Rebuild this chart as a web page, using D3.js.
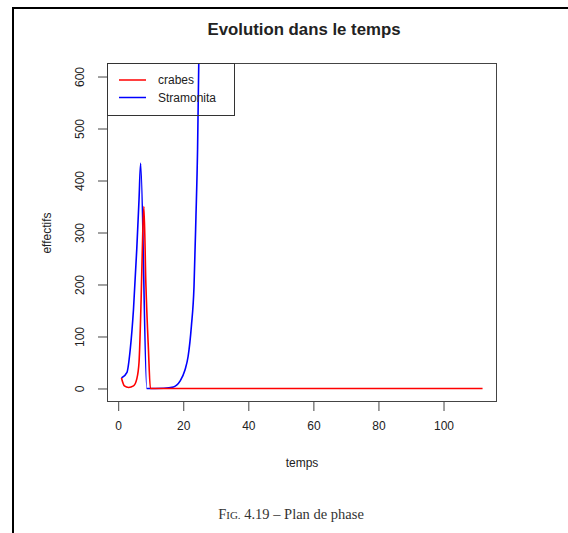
<!DOCTYPE html>
<html>
<head>
<meta charset="utf-8">
<script src="https://cdn.jsdelivr.net/npm/d3@7"></script>
<style>
  body { margin: 0; background: #fff; }
  text { font-family: 'Liberation Sans', Arial, sans-serif; fill: #222; }
  .caption { font-family: 'Liberation Serif', 'DejaVu Serif', serif; fill: #333; }
</style>
</head>
<body>
<div id="chart"></div>
<script>
// values
var timeCrabes = [1, 1.9, 3.2, 4.7, 5.7, 6.4, 7.05, 7.55, 7.9, 8.5, 9.3, 9.9, 112]
var crabes = [20, 5, 2, 5, 18, 50, 171, 299, 350, 203, 75, 0, 0]

var timeStramonita = [1, 2.7, 3.7, 4.7, 5.7, 6.4, 6.9, 8.8, 14, 17, 19, 20.5, 21.5, 22.5, 23.3, 23.9, 24.4, 24.8, 26]
var stramonita = [20, 31, 75, 152, 267, 363, 433, 0, 0.5, 3, 14, 35, 62, 120, 195, 330, 460, 640, 1500]

var xTicks = [0, 20, 40, 60, 80, 100]
var yTicks = [0, 100, 200, 300, 400, 500, 600]

var seriesNames = ['crabes', 'Stramonita']
var seriesColors = ['#ff0000', '#0000ff']

var margin = { top: 63, left: 107, right: 71, bottom: 131 }
var W = 568
var H = 533
var width = W - margin.left - margin.right
var height = H - margin.top - margin.bottom

var root = d3
  .select('#chart')
  .append('svg')
  .attr('width', W)
  .attr('height', H)

// page frame (left and top rules)
root.append('line')
  .attr('x1', 13).attr('x2', 13).attr('y1', 7).attr('y2', H)
  .attr('stroke', '#000').attr('stroke-width', 2)
root.append('line')
  .attr('x1', 12).attr('x2', W).attr('y1', 8).attr('y2', 8)
  .attr('stroke', '#000').attr('stroke-width', 2)

var svg = root.append('g')
  .attr('transform', `translate(${margin.left},${margin.top})`)

let xPositionScale = d3.scaleLinear()
  .domain([-3.44, 116.44])
  .range([0, width])

let yPositionScale = d3.scaleLinear()
  .domain([-26, 626])
  .range([height, 0])

svg.append('clipPath')
  .attr('id', 'plot-clip')
  .append('rect')
  .attr('width', width)
  .attr('height', height)

var line = d3.line()
  .x(d => xPositionScale(d[0]))
  .y(d => yPositionScale(d[1]))
  .curve(d3.curveMonotoneX)

var crabData = timeCrabes.map((t, i) => [t, crabes[i]])
var stramData = timeStramonita.map((t, i) => [t, stramonita[i]])

var plot = svg.append('g').attr('clip-path', 'url(#plot-clip)')

plot.append('path')
  .datum(stramData)
  .attr('d', line)
  .attr('fill', 'none')
  .attr('stroke', seriesColors[1])
  .attr('stroke-width', 1.6)

plot.append('path')
  .datum(crabData)
  .attr('d', line)
  .attr('fill', 'none')
  .attr('stroke', seriesColors[0])
  .attr('stroke-width', 1.6)

// box
svg.append('rect')
  .attr('x', 0.5).attr('y', 0.5)
  .attr('width', width - 1).attr('height', height - 1)
  .attr('fill', 'none')
  .attr('stroke', '#444')

/* axes */
var xAxis = d3.axisBottom(xPositionScale)
  .tickValues(xTicks)
  .tickSize(9)
  .tickPadding(10)
var xg = svg.append('g')
  .attr('class', 'axis x-axis')
  .attr('transform', `translate(0,${height})`)
  .call(xAxis)
xg.select('.domain').remove()
xg.selectAll('.tick line').attr('stroke', '#444')
xg.selectAll('text').attr('font-size', 12).attr('fill', '#222')

var yAxis = d3.axisLeft(yPositionScale)
  .tickValues(yTicks)
  .tickSize(9)
var yg = svg.append('g')
  .attr('class', 'axis y-axis')
  .call(yAxis)
yg.select('.domain').remove()
yg.selectAll('.tick line').attr('stroke', '#444')
yg.selectAll('text')
  .attr('font-size', 12)
  .attr('fill', '#222')
  .attr('x', 0)
  .attr('dy', 0)
  .attr('text-anchor', 'middle')
  .attr('dominant-baseline', 'central')
  .attr('transform', 'translate(-27,0) rotate(-90)')

// titles
root.append('text')
  .attr('x', 304).attr('y', 35)
  .attr('text-anchor', 'middle')
  .attr('font-size', 16.8)
  .attr('font-weight', 'bold')
  .text('Evolution dans le temps')

root.append('text')
  .attr('x', margin.left + width / 2).attr('y', 467)
  .attr('text-anchor', 'middle')
  .attr('font-size', 12)
  .text('temps')

root.append('text')
  .attr('transform', 'translate(51,233) rotate(-90)')
  .attr('text-anchor', 'middle')
  .attr('font-size', 12)
  .text('effectifs')

/* legend */
var legend = svg.append('g')
legend.append('rect')
  .attr('x', 0.5).attr('y', 0.5)
  .attr('width', 127).attr('height', 52)
  .attr('fill', 'none')
  .attr('stroke', '#333')

legend.selectAll('line.key')
  .data(seriesNames)
  .enter()
  .append('line')
  .attr('class', 'key')
  .attr('x1', 12).attr('x2', 39)
  .attr('y1', (d, i) => 17 + i * 17.5)
  .attr('y2', (d, i) => 17 + i * 17.5)
  .attr('stroke', (d, i) => seriesColors[i])
  .attr('stroke-width', 1.5)

legend.selectAll('text.key')
  .data(seriesNames)
  .enter()
  .append('text')
  .attr('class', 'key')
  .attr('x', 51)
  .attr('y', (d, i) => 17 + i * 17.5)
  .attr('dy', '0.35em')
  .attr('font-size', 12)
  .text(d => d)

// caption, "Fig." set in small capitals by hand
var cap = root.append('text')
  .attr('class', 'caption')
  .attr('x', 291).attr('y', 519)
  .attr('text-anchor', 'middle')
  .attr('font-size', 14.5)
cap.append('tspan').text('F')
cap.append('tspan').attr('font-size', 11).text('IG.')
cap.append('tspan').text(' 4.19 – Plan de phase')
</script>
</body>
</html>
